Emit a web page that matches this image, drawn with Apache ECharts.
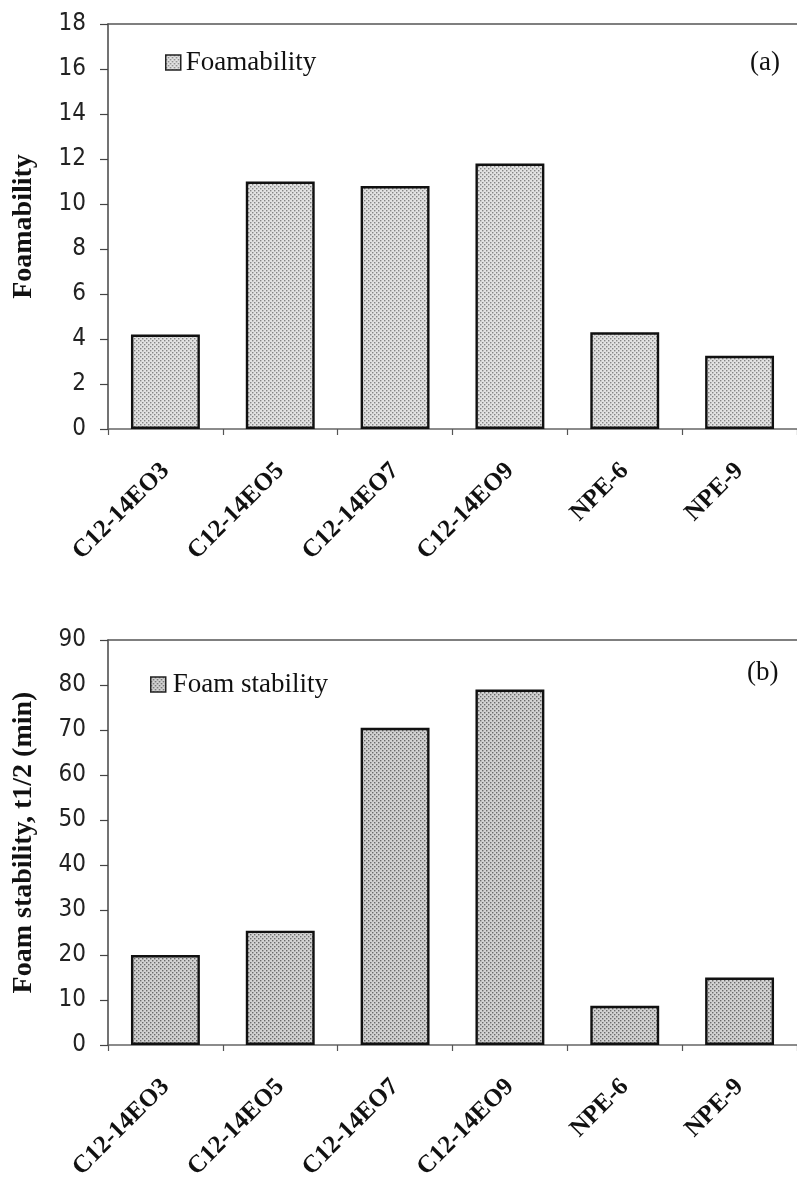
<!DOCTYPE html>
<html>
<head>
<meta charset="utf-8">
<script src="https://cdn.jsdelivr.net/npm/echarts@6/dist/echarts.min.js"></script>
<style>
  html, body { margin: 0; padding: 0; background: #fff; }
  #chart { width: 797px; height: 1185px; }
</style>
</head>
<body>
<div id="chart"></div>
<script>
// surfactants on the x axis (same for both panels)
const categories = ['C12-14EO3', 'C12-14EO5', 'C12-14EO7', 'C12-14EO9', 'NPE-6', 'NPE-9'];
// (a) foamability
const foamability = [4.2, 11.0, 10.8, 11.8, 4.3, 3.25];
// (b) foam stability, t1/2 (min)
const foamStability = [20.0, 25.4, 70.5, 79.0, 8.7, 15.0];

// stippled grey fill like the printed halftone
function dots(bg, dot) {
  const cv = document.createElement('canvas');
  cv.width = 4; cv.height = 4;
  const g = cv.getContext('2d');
  g.fillStyle = bg; g.fillRect(0, 0, 4, 4);
  g.fillStyle = dot;
  g.fillRect(0, 0, 1.4, 1.4);
  g.fillRect(2, 2, 1.4, 1.4);
  return { image: cv, repeat: 'repeat' };
}
const fillA = dots('#e2e2e2', '#858585');
const fillB = dots('#d2d2d2', '#6a6a6a');

const serif = '"Liberation Serif", "Times New Roman", serif';
const sans = '"DejaVu Sans Condensed", "DejaVu Sans", sans-serif';

function xAx(grid) {
  return {
    type: 'category', data: categories, gridIndex: grid,
    axisLine: { lineStyle: { color: '#666', width: 1.5 } },
    axisTick: { show: true, length: 6, lineStyle: { color: '#555', width: 1.2 } },
    axisLabel: { rotate: 45, margin: 38, color: '#111', fontFamily: serif, fontWeight: 'bold', fontSize: 25 }
  };
}
function topAx(grid) {
  return {
    type: 'category', data: categories, gridIndex: grid, position: 'top',
    axisLine: { lineStyle: { color: '#555', width: 1.5 } },
    axisTick: { show: false }, axisLabel: { show: false }
  };
}
function yAx(grid, max, interval, name) {
  return {
    type: 'value', gridIndex: grid, min: 0, max: max, interval: interval,
    name: name, nameLocation: 'middle', nameGap: 70,
    nameTextStyle: { fontFamily: serif, fontWeight: 'bold', fontSize: 28, color: '#111' },
    axisLine: { show: true, lineStyle: { color: '#444', width: 1.5 } },
    axisTick: { show: true, length: 8, lineStyle: { color: '#444', width: 1.2 } },
    axisLabel: { margin: 22, color: '#222', fontFamily: sans, fontSize: 24 },
    splitLine: { show: false }
  };
}

const chart = echarts.init(document.getElementById('chart'));
chart.setOption({
  animation: false,
  backgroundColor: '#fff',
  grid: [
    { left: 108, top: 24, width: 693, height: 405 },
    { left: 108, top: 640, width: 693, height: 405 }
  ],
  title: [
    { text: '(a)', left: 750, top: 49, padding: 0, textStyle: { fontFamily: serif, fontWeight: 'normal', fontSize: 27, color: '#111' } },
    { text: '(b)', left: 747, top: 659, padding: 0, textStyle: { fontFamily: serif, fontWeight: 'normal', fontSize: 27, color: '#111' } }
  ],
  legend: [
    { data: ['Foamability'], left: 165, top: 49, padding: 0, icon: 'rect', itemWidth: 15, itemHeight: 15,
      itemStyle: { borderColor: '#222', borderWidth: 1.5 },
      textStyle: { fontFamily: serif, fontSize: 27, color: '#111', padding: [0, 0, 0, 0] } },
    { data: ['Foam stability'], left: 150, top: 671, padding: 0, icon: 'rect', itemWidth: 15, itemHeight: 15,
      itemStyle: { borderColor: '#222', borderWidth: 1.5 },
      textStyle: { fontFamily: serif, fontSize: 27, color: '#111', padding: [0, 0, 0, 2] } }
  ],
  xAxis: [xAx(0), xAx(1), topAx(0), topAx(1)],
  yAxis: [yAx(0, 18, 2, 'Foamability'), yAx(1, 90, 10, 'Foam stability, t1/2 (min)')],
  series: [
    { name: 'Foamability', type: 'bar', xAxisIndex: 0, yAxisIndex: 0, data: foamability, barCategoryGap: '40%',
      itemStyle: { color: fillA, borderColor: '#111', borderWidth: 2.4 } },
    { name: 'Foam stability', type: 'bar', xAxisIndex: 1, yAxisIndex: 1, data: foamStability, barCategoryGap: '40%',
      itemStyle: { color: fillB, borderColor: '#111', borderWidth: 2.4 } }
  ]
});
</script>
</body>
</html>
